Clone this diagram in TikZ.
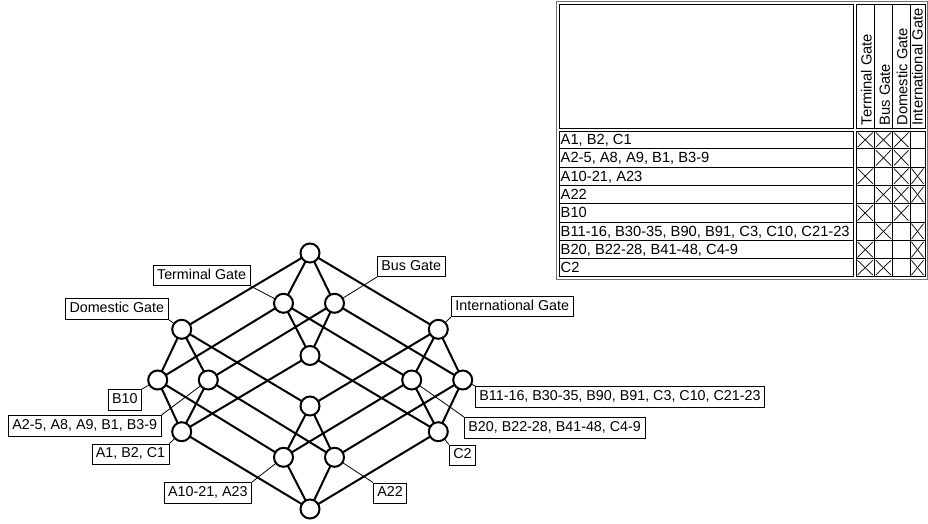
\documentclass[tikz,border=0pt]{standalone}
\usepackage{fontspec}
\setmainfont{Liberation Sans}
\begin{document}
\begin{tikzpicture}[x=1pt,y=-1pt,
  cnode/.style={circle,draw=black,line width=2pt,fill=white,minimum size=19pt,inner sep=0pt},
  edge/.style={line width=2pt},
  lbl/.style={draw=black,line width=0.8pt,fill=white,font=\fontsize{14.3}{16}\selectfont,inner xsep=4pt,inner ysep=3pt,text height=11pt,text depth=3.5pt},
  leader/.style={line width=0.8pt},
  tline/.style={line width=0.9pt},
  frame/.style={line width=0.9pt,draw=black!55},
  rowtxt/.style={anchor=base west,inner sep=0pt,font=\fontsize{14.7}{16}\selectfont},
  coltxt/.style={anchor=base west,rotate=90,inner sep=0pt,font=\fontsize{14.7}{16}\selectfont},
  xmark/.style={line width=0.7pt}]
\useasboundingbox (0,0) rectangle (928,523);

% ---------------- table ----------------
\draw[frame] (556.5,1.5) rectangle (927.2,279.2);
\draw[tline] (559,4) rectangle (853,128);
\draw[tline] (856,4) rectangle (925,128);
\draw[tline] (559,131) rectangle (853,276.5);
\draw[tline] (856,131) rectangle (925,276.5);
\foreach \x in {874.3,892.5,910} {\draw[tline] (\x,4) -- (\x,128); \draw[tline] (\x,131) -- (\x,276.5);}
\foreach \y in {148.7,167,185.3,203.8,222.2,240.5,258.8} {\draw[tline] (559,\y) -- (853,\y); \draw[tline] (856,\y) -- (925,\y);}

\node[coltxt] (hT) at (871.6,125.5) {Terminal Gate};
\node[coltxt] (hB) at (889.9,125.5) {Bus Gate};
\node[coltxt] (hD) at (907.4,125.5) {Domestic Gate};
\node[coltxt] (hI) at (922.5,125.5) {International Gate};

\node[rowtxt] (r1) at (560.5,144.5) {A1, B2, C1};
\node[rowtxt] (r2) at (560.5,162.8) {A2-5, A8, A9, B1, B3-9};
\node[rowtxt] (r3) at (560.5,181.1) {A10-21, A23};
\node[rowtxt] (r4) at (560.5,199.4) {A22};
\node[rowtxt] (r5) at (560.5,217.8) {B10};
\node[rowtxt] (r6) at (560.5,236.1) {B11-16, B30-35, B90, B91, C3, C10, C21-23};
\node[rowtxt] (r7) at (560.5,254.4) {B20, B22-28, B41-48, C4-9};
\node[rowtxt] (r8) at (560.5,272.6) {C2};

% crosses: column index (1..4), row index (1..8)
\def\colx{{856,874.3,892.5,910,925}}
\def\rowy{{131,148.7,167,185.3,203.8,222.2,240.5,258.8,276.5}}
\foreach \c/\r in {1/1,2/1,3/1, 2/2,3/2, 1/3,3/3,4/3, 2/4,3/4,4/4, 1/5,3/5, 2/6,4/6, 1/7,4/7, 1/8,2/8,4/8} {
  \pgfmathsetmacro\xa{\colx[\c-1]+1.5}
  \pgfmathsetmacro\xb{\colx[\c]-1.5}
  \pgfmathsetmacro\ya{\rowy[\r-1]+1.5}
  \pgfmathsetmacro\yb{\rowy[\r]-1.5}
  \draw[xmark] (\xa,\ya) -- (\xb,\yb);
  \draw[xmark] (\xa,\yb) -- (\xb,\ya);
}

% ---------------- lattice ----------------
\coordinate (top) at (310,253);
\coordinate (t) at (283.5,303.3);
\coordinate (b) at (334.5,303.3);
\coordinate (d) at (181.7,329.3);
\coordinate (i) at (438.3,329.3);
\coordinate (tb) at (310,355.5);
\coordinate (td) at (157.7,380);
\coordinate (bd) at (208.3,380);
\coordinate (ti) at (411.7,380);
\coordinate (bi) at (462.7,380);
\coordinate (di) at (310,406);
\coordinate (tbd) at (181.7,431.7);
\coordinate (tbi) at (438.3,431.7);
\coordinate (tdi) at (283.5,457.3);
\coordinate (bdi) at (334.5,457.3);
\coordinate (bot) at (310,509);

% labels
\node[lbl,anchor=south east] (LT) at (250.5,286) {Terminal Gate};
\node[lbl,anchor=south west] (LB) at (377,277) {Bus Gate};
\node[lbl,anchor=south east] (LD) at (168.5,319.5) {Domestic Gate};
\node[lbl,anchor=south west] (LI) at (451,317) {International Gate};
\node[lbl,anchor=north east] (L1) at (142,389) {B10};
\node[lbl,anchor=north east] (L2) at (161.5,415) {A2-5, A8, A9, B1, B3-9};
\node[lbl,anchor=north east] (L3) at (169.5,443.5) {A1, B2, C1};
\node[lbl,anchor=north east] (L4) at (252,482) {A10-21, A23};
\node[lbl,anchor=north west] (L5) at (373,482.5) {A22};
\node[lbl,anchor=north west] (L6) at (449,444.5) {C2};
\node[lbl,anchor=north west] (L7) at (475,386) {B11-16, B30-35, B90, B91, C3, C10, C21-23};
\node[lbl,anchor=north west] (L8) at (464,417) {B20, B22-28, B41-48, C4-9};

\draw[leader] (LT.south east) -- (t);
\draw[leader] (LB.south west) -- (b);
\draw[leader] (LD.south east) -- (d);
\draw[leader] (LI.south west) -- (i);
\draw[leader] (L1.north east) -- (td);
\draw[leader] (L2.north east) -- (bd);
\draw[leader] (L3.north east) -- (tbd);
\draw[leader] (L4.north east) -- (tdi);
\draw[leader] (L5.north west) -- (bdi);
\draw[leader] (L6.north west) -- (tbi);
\draw[leader] (L7.north west) -- (bi);
\draw[leader] (L8.north west) -- (ti);

\foreach \a/\b in {top/t,top/b,top/d,top/i,
  t/tb,t/td,t/ti, b/tb,b/bd,b/bi, d/td,d/bd,d/di, i/ti,i/bi,i/di,
  tb/tbd,tb/tbi, td/tbd,td/tdi, bd/tbd,bd/bdi, ti/tbi,ti/tdi, bi/tbi,bi/bdi, di/tdi,di/bdi,
  tbd/bot,tbi/bot,tdi/bot,bdi/bot}
  \draw[edge] (\a) -- (\b);

\foreach \n in {top,t,b,d,i,tb,td,bd,ti,bi,di,tbd,tbi,tdi,bdi,bot}
  \node[cnode] (c-\n) at (\n) {};
\end{tikzpicture}
\end{document}
